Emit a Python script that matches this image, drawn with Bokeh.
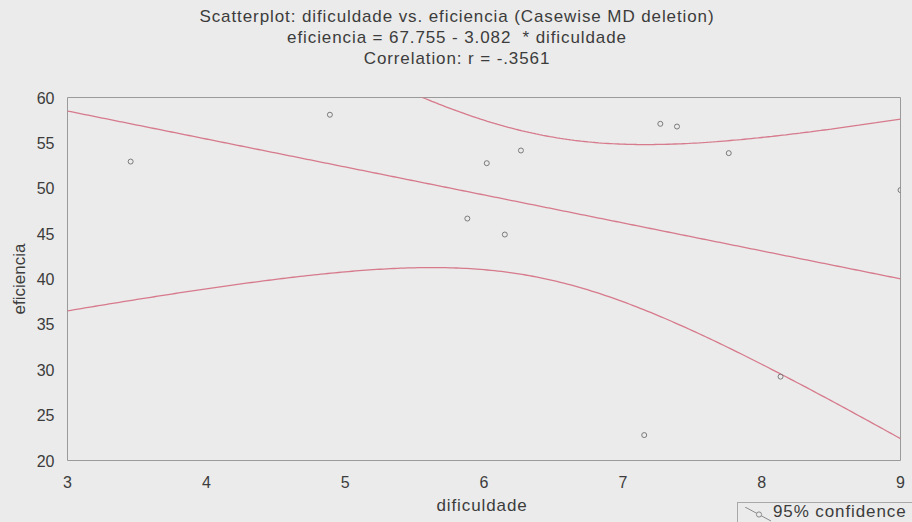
import numpy as np
from bokeh.plotting import figure
from bokeh.layouts import column
from bokeh.models import Div, ColumnDataSource, Range1d, FixedTicker
from bokeh.embed import file_html
from bokeh.resources import INLINE

# ---- data ----
dificuldade = [3.455, 4.89, 5.88, 6.02, 6.15, 6.266, 7.154, 7.27, 7.39, 7.763, 8.136, 9.0]
eficiencia = [52.94, 58.1, 46.66, 52.76, 44.9, 54.16, 22.8, 57.1, 56.8, 53.87, 29.24, 49.8]
intercept = 67.755
slope = -3.082
x_ticks = [3, 4, 5, 6, 7, 8, 9]
y_ticks = [20, 25, 30, 35, 40, 45, 50, 55, 60]
title_lines = [
    "Scatterplot: dificuldade vs. eficiencia (Casewise MD deletion)",
    "eficiencia = 67.755 - 3.082&nbsp; * dificuldade",
    "Correlation: r = -.3561",
]
x_label = "dificuldade"
y_label = "eficiencia"
legend_label = "95% confidence"

BG = "#ebebeb"
TXT = "#3c3c3c"
RED = "#d67a8c"
FONT = "Liberation Sans"
W = 912

# ---- regression line and 95% confidence band of the mean ----
xa = np.array(dificuldade)
ya = np.array(eficiencia)
mask = xa < 9.0
xf, yf = xa[mask], ya[mask]
n = len(xf)
xbar = xf.mean()
sxx = ((xf - xbar) ** 2).sum()
resid = yf - (intercept + slope * xf)
s = np.sqrt((resid ** 2).sum() / (n - 2))
t_crit = 2.262  # t(0.975, df=9)

xs = np.linspace(3, 9, 241)
yhat = intercept + slope * xs
half = t_crit * s * np.sqrt(1.0 / n + (xs - xbar) ** 2 / sxx)
upper = yhat + half
lower = yhat - half

TXT_CSS = ("font-family:'%s';font-size:17px;letter-spacing:0.9px;color:%s;"
           "white-space:nowrap;line-height:20px;" % (FONT, TXT))

# ---- title strip (HTML text) ----
rows = []
for i, t in enumerate(title_lines):
    rows.append('<div style="position:absolute;left:0;width:914px;top:%dpx;text-align:center;%s">%s</div>'
                % (7 + 21 * i, TXT_CSS, t))
top = Div(text='<div style="position:relative;width:%dpx;height:88px;background:%s;overflow:hidden">%s</div>'
          % (W, BG, "".join(rows)), width=W, height=88, margin=0,
          styles={"background-color": BG})

# ---- main plot ----
p = figure(width=W, height=402, output_backend="svg", toolbar_location=None,
           x_range=Range1d(3, 9), y_range=Range1d(20, 60),
           min_border_left=67, min_border_right=12, min_border_top=9, min_border_bottom=30,
           styles={"background-color": BG})
p.title.visible = False
p.background_fill_color = BG
p.border_fill_color = BG
p.outline_line_color = "#9a9a9a"
p.outline_line_width = 1
p.xgrid.visible = False
p.ygrid.visible = False

for ax in (p.xaxis[0], p.yaxis[0]):
    ax.axis_line_color = None
    ax.major_tick_line_color = None
    ax.minor_tick_line_color = None
    ax.major_label_text_font = FONT
    ax.major_label_text_font_size = "16px"
    ax.major_label_text_color = TXT
    ax.axis_label_text_font = FONT
    ax.axis_label_text_font_size = "17px"
    ax.axis_label_text_font_style = "normal"
    ax.axis_label_text_color = TXT

p.xaxis[0].ticker = FixedTicker(ticks=x_ticks)
p.yaxis[0].ticker = FixedTicker(ticks=y_ticks)
p.yaxis[0].axis_label = y_label
p.xaxis[0].major_label_standoff = 9
p.yaxis[0].major_label_standoff = 7
p.yaxis[0].axis_label_standoff = 5

src = ColumnDataSource(dict(x=xs, yhat=yhat, up=upper, lo=lower))
p.line("x", "yhat", source=src, line_color=RED, line_width=1.3)
p.line("x", "up", source=src, line_color=RED, line_width=1.3)
p.line("x", "lo", source=src, line_color=RED, line_width=1.3)

p.scatter(dificuldade, eficiencia, marker="circle", size=5, fill_color=None,
          line_color="#7a7a7a", line_width=1)

# ---- bottom strip: x axis title and legend (HTML text) ----
icon = ('<svg width="28" height="16" style="position:absolute;left:745px;top:17px">'
        '<line x1="0" y1="0" x2="26" y2="14" stroke="#8a8a8a" stroke-width="1"/>'
        '<circle cx="14" cy="7.5" r="2.6" fill="%s" stroke="#8a8a8a" stroke-width="1"/></svg>' % BG)
bot_html = (
    '<div style="position:relative;width:%dpx;height:32px;background:%s;overflow:hidden">'
    '<div style="position:absolute;left:0;width:964px;top:6px;text-align:center;%s">%s</div>'
    '<div style="position:absolute;left:737px;top:12px;width:220px;height:40px;'
    'border:1px solid #a8a8a8;box-sizing:border-box"></div>'
    '%s'
    '<div style="position:absolute;left:773px;top:12px;%s">%s</div>'
    '</div>' % (W, BG, TXT_CSS, x_label, icon, TXT_CSS, legend_label))
bot = Div(text=bot_html, width=W, height=32, margin=0, styles={"background-color": BG})

layout = column(top, p, bot, spacing=0, styles={"background-color": BG})

html = file_html(layout, INLINE)
css = "<style>html,body{background:%s !important;margin:0;overflow:hidden}</style>" % BG
html = html.replace("</head>", css + "</head>", 1)
html = html.replace("<body>", '<body style="background:%s;overflow:hidden">' % BG, 1)
open("out.html", "w").write(html)
